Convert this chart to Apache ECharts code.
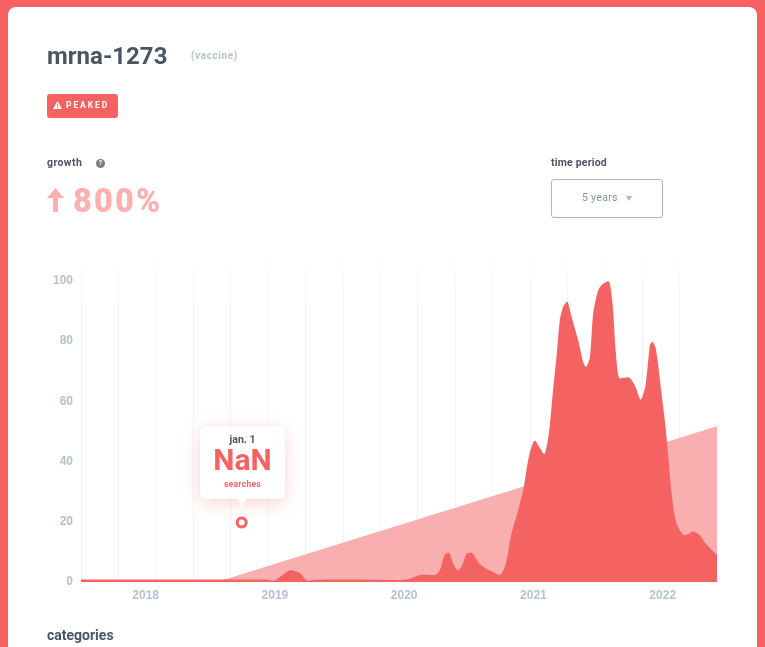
<!DOCTYPE html>
<html>
<head>
<meta charset="utf-8">
<script src="https://cdn.jsdelivr.net/npm/echarts@6/dist/echarts.min.js"></script>
<style>
html, body { margin: 0; padding: 0; }
body { width: 765px; height: 647px; overflow: hidden; background: #f76161; position: relative; font-family: Roboto, sans-serif; font-weight: 700; }
#card { position: absolute; left: 8px; top: 7px; width: 749px; height: 700px; background: #fff; border-radius: 8px; }
#chart { position: absolute; left: 0; top: 0; width: 765px; height: 647px; }
.t { position: absolute; white-space: nowrap; line-height: 1; }
#badge { position: absolute; left: 47px; top: 94px; width: 71px; height: 24px; background: #f76161; border-radius: 3px; }
#help { position: absolute; left: 96px; top: 159px; width: 9px; height: 9px; border-radius: 50%; background: #7d7d7d; color: #fff; font-size: 7px; line-height: 9px; text-align: center; }
#period { position: absolute; left: 551px; top: 179px; width: 110px; height: 37px; border: 1px solid #aab8c6; border-radius: 3px; }
#tip { position: absolute; left: 200px; top: 427px; width: 85px; height: 72px; background: #fff; border-radius: 6px; box-shadow: 0 4px 18px rgba(246,96,96,.28); }
#tip:after { content: ""; position: absolute; left: 37px; top: 71px; border-left: 5px solid transparent; border-right: 5px solid transparent; border-top: 10px solid #fff; }
#tip .t { left: 0; width: 85px; text-align: center; }
</style>
</head>
<body>
<div id="card"></div>
<div id="chart"></div>

<div class="t" style="left:47px;top:44px;font-size:24px;color:#4a5562">mrna-1273</div>
<div class="t" style="left:191px;top:51px;font-size:10px;color:#b5c1d0;letter-spacing:.6px">(vaccine)</div>

<div id="badge">
  <svg style="position:absolute;left:6px;top:7px" width="9" height="8"><path d="M4.5 0L9 8H0Z" fill="#fff"/><rect x="4" y="2.6" width="1" height="2.8" fill="#f76161"/><rect x="4" y="6" width="1" height="1" fill="#f76161"/></svg>
  <div class="t" style="left:19px;top:7px;font-size:8.5px;color:#fff;letter-spacing:1.9px">PEAKED</div>
</div>

<div class="t" style="left:47px;top:158px;font-size:10.5px;color:#4a5562;letter-spacing:.4px">growth</div>
<div id="help">?</div>
<svg style="position:absolute;left:47px;top:188px" width="17" height="24"><path d="M8.5 0L17 10H11V24H6V10H0Z" fill="#fdb0b0"/></svg>
<div class="t" style="left:73px;top:185px;font-size:32.5px;font-weight:900;color:#fdb0b0;letter-spacing:2.2px">800%</div>

<div class="t" style="left:551px;top:158px;font-size:10.5px;color:#4a5562;letter-spacing:.2px">time period</div>
<div id="period">
  <div class="t" style="left:30px;top:13px;font-size:10.5px;font-weight:400;color:#84919f;letter-spacing:.3px">5 years</div>
  <svg style="position:absolute;left:74px;top:16px" width="6" height="5"><path d="M0 0H6L3 5Z" fill="#aab8c6"/></svg>
</div>

<div id="tip">
  <div class="t" style="top:8px;font-size:10.5px;color:#4a5562">jan. 1</div>
  <div class="t" style="top:18px;font-size:30px;color:#f76161">NaN</div>
  <div class="t" style="top:53px;font-size:8.5px;color:#f76161;letter-spacing:.3px">searches</div>
</div>

<div class="t" style="left:47px;top:628px;font-size:14px;color:#4a5562">categories</div>

<script>
var yearLabels = [2018, 2019, 2020, 2021, 2022];
var valueLabels = [0, 20, 40, 60, 80, 100];

// search curve (x in years, y in 0-100)
var searchYears = [2017.5, 2018, 2018.5, 2018.8, 2018.93, 2018.983, 2019.05, 2019.12, 2019.192, 2019.254, 2019.293, 2019.6, 2019.966,
  2020.043, 2020.147, 2020.237, 2020.276, 2020.314, 2020.345, 2020.379, 2020.417, 2020.448, 2020.482, 2020.521,
  2020.572, 2020.624, 2020.688, 2020.74, 2020.786, 2020.83, 2020.882, 2020.926, 2020.959, 2020.985, 2021.011,
  2021.044, 2021.083, 2021.119, 2021.148, 2021.179, 2021.204, 2021.23, 2021.261, 2021.295, 2021.346, 2021.385,
  2021.406, 2021.437, 2021.462, 2021.501, 2021.54, 2021.581, 2021.612, 2021.638, 2021.669, 2021.733, 2021.785,
  2021.829, 2021.867, 2021.901, 2021.919, 2021.947, 2021.991, 2022.022, 2022.043, 2022.069, 2022.107, 2022.172,
  2022.236, 2022.288, 2022.327, 2022.42];
var searchValues = [0.8, 0.8, 0.8, 0.8, 0.8, 0.4, 2, 3.9, 3, 0.4, 0.7, 0.8, 0.6,
  1.1, 2.5, 2.3, 3.9, 9.2, 9.7, 6.1, 3.9, 5.5, 9.4, 9.7,
  6.6, 4.7, 3.3, 2.3, 6.1, 16, 23.8, 31.6, 40.4, 44.9, 47,
  44.9, 42.4, 49.3, 62, 75, 86.9, 91.4, 93.2, 88, 80.3, 73.1,
  71.4, 74.8, 89.1, 96.9, 99.1, 99.9, 92.5, 75.9, 67.6, 68, 65.3,
  60.6, 65.3, 78.6, 79.7, 77.5, 62.6, 51.5, 41.5, 29.3, 19.4, 15.5,
  16.8, 15.5, 13, 8.9];

// straight trend wedge behind the curve
var trendYears = [2018.55, 2022.42];
var trendValues = [0, 51.7];

// hover marker under the tooltip
var hoverYear = [2018.743];
var hoverValue = [19.8];

function pairs(xs, ys) {
  return xs.map(function (x, i) { return [x, ys[i]]; });
}

var myChart = echarts.init(document.getElementById('chart'));

// vertical lines fade out towards the top
var fadeLine = new echarts.graphic.LinearGradient(0, 252, 0, 300, [
  { offset: 0, color: '#ffffff' },
  { offset: 1, color: '#f2f3f6' }
], true);

myChart.setOption({
  backgroundColor: 'transparent',
  animation: false,
  grid: { left: 81, right: 48, top: 252, bottom: 65 },
  xAxis: [
    {
      type: 'value',
      min: 2017.5,
      max: 2022.42,
      axisLine: { show: false },
      axisTick: { show: false },
      splitLine: { show: false },
      axisLabel: {
        customValues: yearLabels,
        formatter: function (v) { return String(v); },
        color: '#b5c1d0',
        fontSize: 12,
        fontWeight: 700,
        margin: 8
      }
    },
    {
      // only for the faint vertical lines, they dont sit on the years
      type: 'value',
      position: 'bottom',
      min: 0,
      max: 17,
      interval: 1,
      axisLine: { show: false },
      axisTick: { show: false },
      axisLabel: { show: false },
      splitLine: { show: true, showMaxLine: false, lineStyle: { color: fadeLine, width: 1 } }
    }
  ],
  yAxis: {
    type: 'value',
    min: 0,
    max: 109.6,
    axisLine: { show: false },
    axisTick: { show: false },
    splitLine: { show: false },
    axisLabel: {
      customValues: valueLabels,
      color: '#b5c1d0',
      fontSize: 12,
      fontWeight: 700,
      margin: 8
    }
  },
  series: [
    {
      type: 'line',
      data: pairs(trendYears, trendValues),
      showSymbol: false,
      lineStyle: { width: 0 },
      itemStyle: { color: '#f9afaf' },
      areaStyle: { color: '#f9afaf', opacity: 1 }
    },
    {
      type: 'line',
      data: pairs(searchYears, searchValues),
      smooth: 0.25,
      showSymbol: false,
      lineStyle: { width: 0 },
      itemStyle: { color: '#f56262' },
      areaStyle: { color: '#f56262', opacity: 1 }
    },
    {
      type: 'scatter',
      data: pairs(hoverYear, hoverValue),
      symbol: 'circle',
      symbolSize: 9,
      itemStyle: { color: '#fff', borderColor: '#f76161', borderWidth: 3, opacity: 1 }
    }
  ]
});
</script>
</body>
</html>
